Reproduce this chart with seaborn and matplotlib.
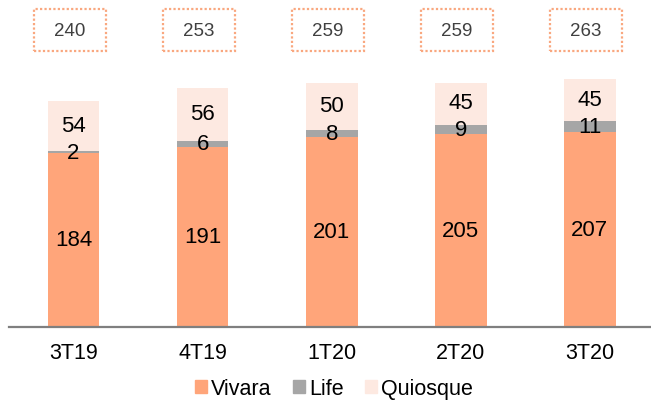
import pandas as pd
import matplotlib.pyplot as plt
import seaborn as sns
from matplotlib.patches import Patch, Rectangle

# Dados
trimestres = ['3T19', '4T19', '1T20', '2T20', '3T20']
vivara = [184, 191, 201, 205, 207]
life = [2, 6, 8, 9, 11]
quiosque = [54, 56, 50, 45, 45]
totais = [240, 253, 259, 259, 263]

cor_vivara = '#FFA57A'
cor_life = '#A6A6A6'
cor_quiosque = '#FDE9E1'
cor_caixa = '#F9A77F'

df = pd.DataFrame({'tri': trimestres, 'vivara': vivara, 'life': life, 'quiosque': quiosque})
df['vl'] = df['vivara'] + df['life']
df['total'] = df['vl'] + df['quiosque']

sns.set_style('white')
plt.rcParams['font.family'] = ['Liberation Sans', 'DejaVu Sans']
plt.rcParams['text.color'] = 'black'
plt.rcParams['xtick.color'] = 'black'

fig = plt.figure(figsize=(6.51, 4.02), dpi=100)
ax = fig.add_axes([9 / 651, 74.5 / 402, 642 / 651, 327.5 / 402])

# barras empilhadas (camadas sobrepostas)
sns.barplot(data=df, x='tri', y='total', color=cor_quiosque, width=0.4, saturation=1, linewidth=0, ax=ax)
sns.barplot(data=df, x='tri', y='vl', color=cor_life, width=0.4, saturation=1, linewidth=0, ax=ax)
sns.barplot(data=df, x='tri', y='vivara', color=cor_vivara, width=0.4, saturation=1, linewidth=0, ax=ax)

for i in range(len(trimestres)):
    ax.text(i, vivara[i] / 2, str(vivara[i]), ha='center', va='center', fontsize=16, color='black')
    ax.text(i, vivara[i] + life[i] / 2, str(life[i]), ha='center', va='center', fontsize=16, color='black')
    ax.text(i, vivara[i] + life[i] + quiosque[i] / 2 + 1, str(quiosque[i]),
            ha='center', va='center', fontsize=16, color='black')
    # caixa pontilhada com o total
    ax.add_patch(Rectangle((i - 0.03 - 0.28, 292.8), 0.56, 44.6, fill=False,
                           edgecolor=cor_caixa, linestyle=(0, (1, 1)), linewidth=1.6,
                           clip_on=False))
    ax.text(i - 0.03, 315, str(totais[i]), ha='center', va='center', fontsize=13.5,
            color='#404040')

ax.set_xlim(-0.5, 4.473)
ax.set_ylim(0, 348)
ax.set_xlabel('')
ax.set_ylabel('')
ax.set_yticks([])
ax.tick_params(axis='x', length=0, pad=11, labelsize=15.5, labelcolor='black')
for s in ['top', 'right', 'left']:
    ax.spines[s].set_visible(False)
ax.spines['bottom'].set_color('#7F7F7F')
ax.spines['bottom'].set_linewidth(1.6)

handles = [Patch(color=cor_vivara, label='Vivara'),
           Patch(color=cor_life, label='Life'),
           Patch(color=cor_quiosque, label='Quiosque')]
fig.legend(handles=handles, loc='center', bbox_to_anchor=(334 / 651, 12 / 402), ncol=3,
           frameon=False, fontsize=15.5, handlelength=0.55, handleheight=0.55,
           handletextpad=0.2, columnspacing=1.0, borderpad=0)

fig.savefig('out.png', dpi=100)
